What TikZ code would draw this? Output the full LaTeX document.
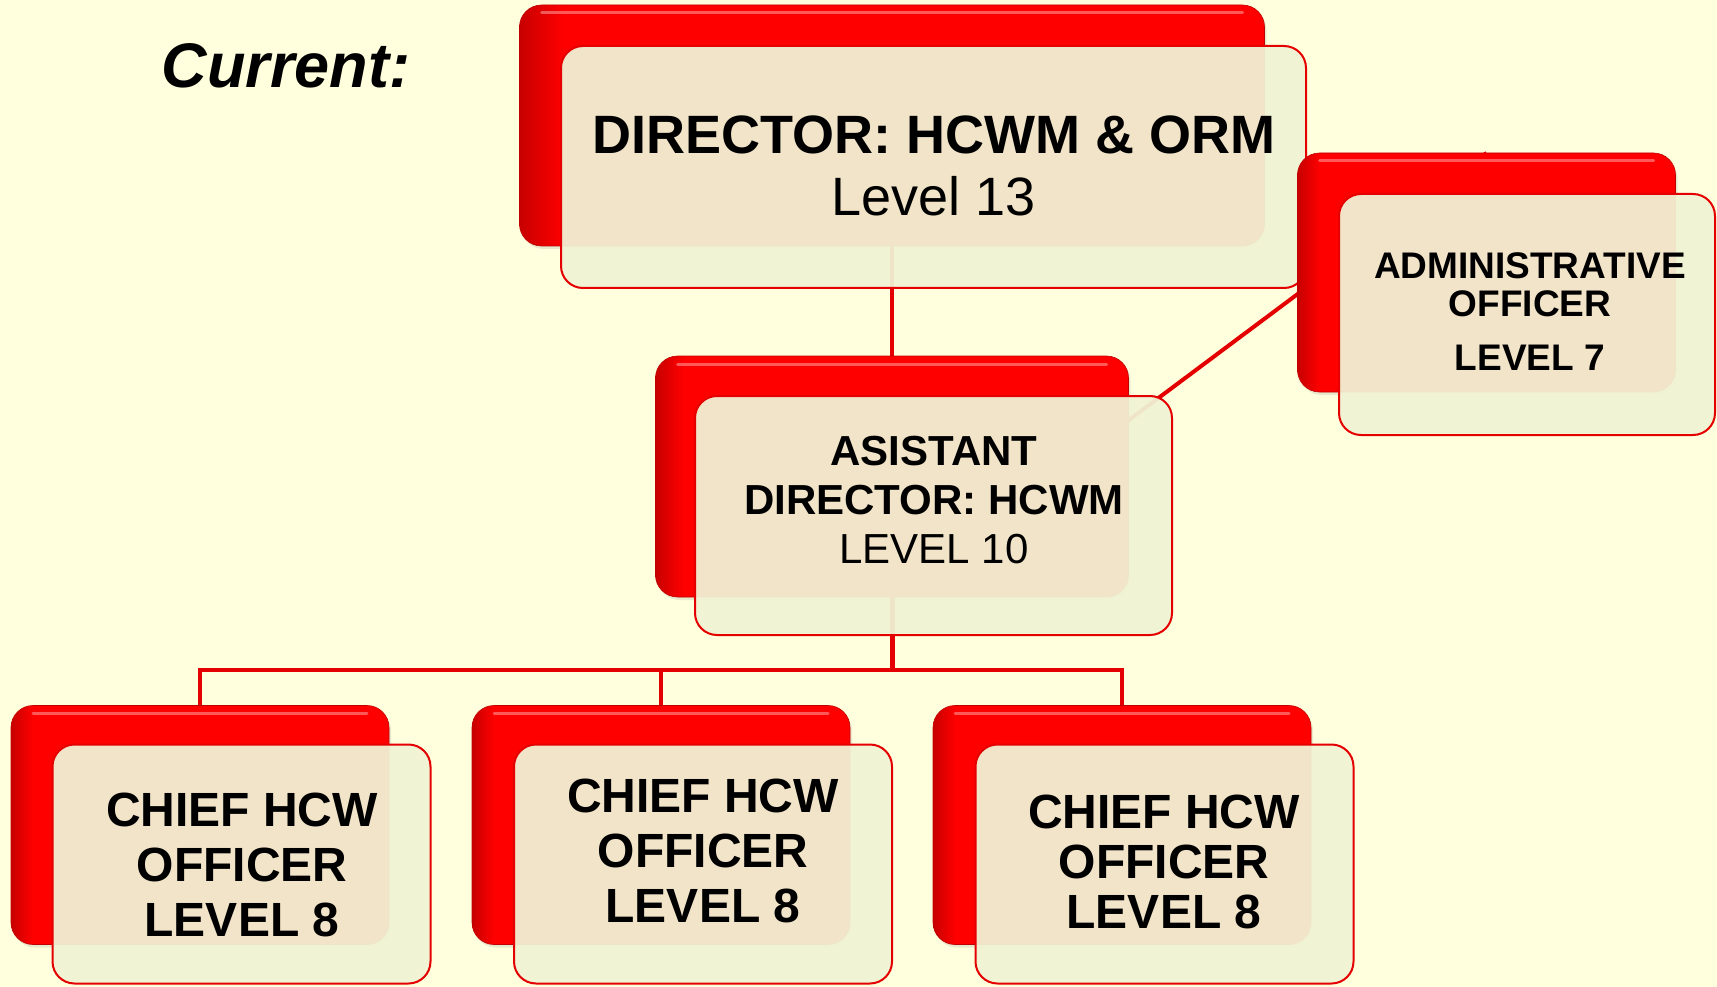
\documentclass[tikz,border=0pt]{standalone}
\usepackage{fontspec}
\setmainfont{Liberation Sans}
\usetikzlibrary{shadows,backgrounds}
\pgfdeclarelayer{paper}
\pgfdeclarelayer{links}
\pgfsetlayers{paper,links,main}
\definecolor{bg}{RGB}{255,255,222}
\definecolor{boxred}{RGB}{255,0,0}
\definecolor{darkred}{RGB}{200,0,0}
\definecolor{frontfill}{RGB}{241,243,213}
\definecolor{lnred}{RGB}{228,0,0}
\pgfdeclarehorizontalshading{redsh}{100bp}{color(0bp)=(darkred); color(25bp)=(darkred); color(28bp)=(boxred); color(100bp)=(boxred)}
\tikzset{
  backbox/.style={rectangle, rounded corners=22pt, shading=redsh, draw=red!75!black, line width=0.6pt,
    inner sep=0pt, outer sep=0pt, minimum width=378pt, minimum height=239pt,
    drop shadow={opacity=0.18, shadow xshift=2pt, shadow yshift=-3pt}},
  frontbox/.style={rectangle, rounded corners=22pt, fill=frontfill, fill opacity=0.94, draw=lnred,
    line width=2pt, inner sep=0pt, outer sep=0pt, minimum width=378pt, minimum height=239pt},
  conn/.style={draw=lnred, line width=4pt},
  lbl/.style={align=center, text=black, inner sep=0pt},
  glint/.style={white, opacity=0.35, line width=3pt, line cap=round},
}
\begin{document}
\begin{tikzpicture}[x=1pt,y=-1pt]
\useasboundingbox (0,0) rectangle (1717,987);
\begin{pgfonlayer}{paper}
\fill[bg] (0,0) rectangle (1717,987);
\end{pgfonlayer}

% title
\node[lbl, font=\fontsize{63}{70}\selectfont\bfseries\itshape] (title) at (286,66) {Current:};

% ---- director
\node[backbox, minimum width=745pt, minimum height=241pt] (dirB) at (892,125.5) {};
\draw[glint] ([shift={(22,8)}]dirB.north west) -- ([shift={(-22,8)}]dirB.north east);
\node[frontbox, minimum width=745pt, minimum height=242pt] (dirF) at (933.5,167) {};
\node[lbl, font=\fontsize{54}{62}\selectfont] (dirT) at (934,166) {{\bfseries DIRECTOR: HCWM \& ORM}\\Level 13};

% ---- admin
\node[backbox] (admB) at (1486.5,272.5) {};
\draw[glint] ([shift={(22,8)}]admB.north west) -- ([shift={(-22,8)}]admB.north east);
\node[frontbox, minimum width=376pt, minimum height=241pt] (admF) at (1527,314.5) {};
\node[lbl, font=\fontsize{37}{38}\selectfont\bfseries] (admT) at (1530,312) {ADMINISTRATIVE\\OFFICER\\[16pt]LEVEL 7};

% ---- assistant
\node[backbox, minimum width=473pt, minimum height=241pt] (asB) at (892,476.5) {};
\draw[glint] ([shift={(22,8)}]asB.north west) -- ([shift={(-22,8)}]asB.north east);
\node[frontbox, minimum width=477pt] (asF) at (933.5,515.5) {};
\node[lbl, font=\fontsize{42}{49}\selectfont] (asT) at (934,500) {{\bfseries ASISTANT}\\{\bfseries DIRECTOR: HCWM}\\LEVEL 10};

% ---- chiefs
\node[backbox] (c1B) at (200,825) {};
\draw[glint] ([shift={(22,8)}]c1B.north west) -- ([shift={(-22,8)}]c1B.north east);
\node[frontbox] (c1F) at (241.5,864) {};
\node[lbl, font=\fontsize{48}{55}\selectfont\bfseries] (c1T) at (242,865) {CHIEF HCW\\OFFICER\\LEVEL 8};

\node[backbox] (c2B) at (661,825) {};
\draw[glint] ([shift={(22,8)}]c2B.north west) -- ([shift={(-22,8)}]c2B.north east);
\node[frontbox] (c2F) at (703,864) {};
\node[lbl, font=\fontsize{48}{55}\selectfont\bfseries] (c2T) at (703,851) {CHIEF HCW\\OFFICER\\LEVEL 8};

\node[backbox] (c3B) at (1122,825) {};
\draw[glint] ([shift={(22,8)}]c3B.north west) -- ([shift={(-22,8)}]c3B.north east);
\node[frontbox] (c3F) at (1164.5,864) {};
\node[lbl, font=\fontsize{48}{50}\selectfont\bfseries] (c3T) at (1164,862) {CHIEF HCW\\OFFICER\\LEVEL 8};

% ---- connectors (behind the boxes)
\begin{pgfonlayer}{links}
\coordinate (bus) at (892,670);
\draw[conn] (dirB.south) -- (asB.north);
\draw[conn] (asB.south) -- (admB.north);
\draw[conn, line width=5pt] (asB.south) -- (bus);
\draw[conn] (bus) -| (c1B.north);
\draw[conn] (bus) -| (c2B.north);
\draw[conn] (bus) -| (c3B.north);
\end{pgfonlayer}
\end{tikzpicture}
\end{document}
